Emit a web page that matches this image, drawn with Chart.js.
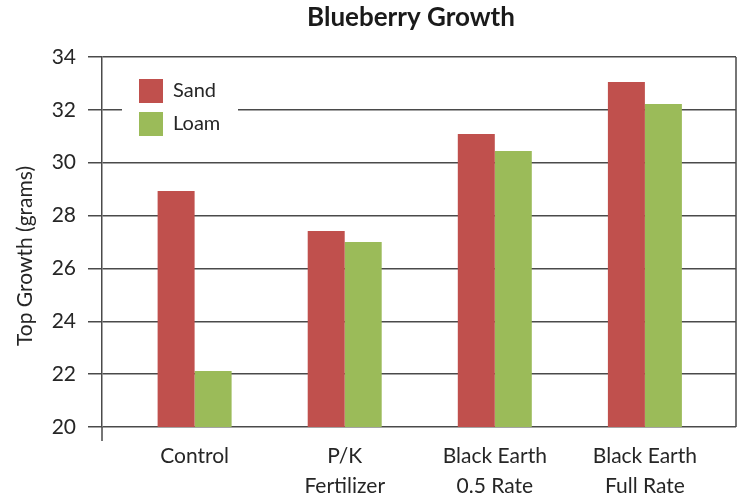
<!DOCTYPE html>
<html>
<head>
<meta charset="utf-8">
<script src="https://cdn.jsdelivr.net/npm/chart.js@4.4.1/dist/chart.umd.min.js"></script>
<style>
  html, body { margin: 0; padding: 0; background: #fff; }
  #wrap { width: 744px; height: 499px; }
</style>
</head>
<body>
<div id="wrap"><canvas id="myChart" width="744" height="499"></canvas></div>
<script>
var categories = ["Control", ["P/K", "Fertilizer"], ["Black Earth", "0.5 Rate"], ["Black Earth", "Full Rate"]];
var sandValues = [28.93, 27.42, 31.09, 33.05];
var loamValues = [22.12, 27.0, 30.44, 32.22];
var yTicks = [20, 22, 24, 26, 28, 30, 32, 34];

var chartTitle = "Blueberry Growth";
var yTitle = "Top Growth (grams)";
var lineColor = "#4a4a4a";
var textColor = "#262626";

function toPoints(values) {
    return values.map(function (v, i) { return { x: i, y: v }; });
}

// draws the frame bits Excel has, titles, and the legend background
var extrasPlugin = {
    id: "extras",
    afterLayout: function (chart) {
        var lg = chart.legend;
        var h = lg.height;
        lg.left = chart.chartArea.left + 28;
        lg.top = chart.chartArea.top + 13;
        lg.bottom = lg.top + h;
    },
    beforeDatasetsDraw: function (chart) {
        var ctx = chart.ctx;
        var lg = chart.legend;
        ctx.save();
        ctx.fillStyle = "#ffffff";
        ctx.fillRect(lg.left - 8, lg.top - 3, 116, 84);
        ctx.restore();
        lg.draw();
    },
    afterDraw: function (chart) {
        var ctx = chart.ctx;
        var a = chart.chartArea;
        ctx.save();
        ctx.strokeStyle = lineColor;
        ctx.lineWidth = 1.5;
        ctx.beginPath();
        ctx.moveTo(a.right, a.top);
        ctx.lineTo(a.right, a.bottom);
        ctx.moveTo(a.left, a.bottom);
        ctx.lineTo(a.left, a.bottom + 14);
        ctx.stroke();

        ctx.fillStyle = "#1a1a1a";
        ctx.font = "bold 26px Lato";
        ctx.textAlign = "center";
        ctx.textBaseline = "middle";
        ctx.fillText(chartTitle, (a.left + a.right) / 2 - 8, 18);

        ctx.fillStyle = textColor;
        ctx.font = "21px Lato";
        ctx.translate(25, 256);
        ctx.rotate(-Math.PI / 2);
        ctx.fillText(yTitle, 0, 0);
        ctx.restore();
    }
};

var ctx = document.getElementById("myChart").getContext("2d");
var myChart = new Chart(ctx, {
    type: "bar",
    data: {
        datasets: [
            {
                label: "Sand",
                data: toPoints(sandValues),
                backgroundColor: "#c0504d",
                borderWidth: 0
            },
            {
                label: "Loam",
                data: toPoints(loamValues),
                backgroundColor: "#9bbb59",
                borderWidth: 0
            }
        ]
    },
    options: {
        responsive: false,
        animation: false,
        categoryPercentage: 0.493,
        barPercentage: 1,
        layout: { padding: { top: 57, right: 8, bottom: 0, left: 0 } },
        plugins: {
            tooltip: { enabled: false },
            title: { display: false },
            legend: {
                position: "chartArea",
                align: "start",
                labels: {
                    boxWidth: 24,
                    boxHeight: 24,
                    padding: 9,
                    color: textColor,
                    font: { family: "Lato", size: 20 }
                }
            }
        },
        scales: {
            x: {
                type: "linear",
                offset: false,
                min: -0.617,
                max: 3.607,
                afterBuildTicks: function (s) {
                    s.ticks = categories.map(function (c, i) { return { value: i }; });
                },
                afterFit: function (s) { s.height = 72; },
                grid: { display: false, drawTicks: false, offset: false },
                border: { display: false },
                ticks: {
                    autoSkip: false,
                    maxRotation: 0,
                    padding: 15,
                    color: textColor,
                    font: { family: "Lato", size: 21, lineHeight: 1.4 },
                    callback: function (v) { return categories[v]; }
                }
            },
            y: {
                min: 20,
                max: 34,
                afterBuildTicks: function (s) {
                    s.ticks = yTicks.map(function (v) { return { value: v }; });
                },
                afterFit: function (s) { s.width = 102; },
                grid: { color: lineColor, lineWidth: 1.5, tickLength: 14 },
                border: { color: lineColor, width: 1.5 },
                ticks: {
                    padding: 12,
                    color: textColor,
                    font: { family: "Lato", size: 21 }
                }
            }
        }
    },
    plugins: [extrasPlugin]
});
</script>
</body>
</html>
